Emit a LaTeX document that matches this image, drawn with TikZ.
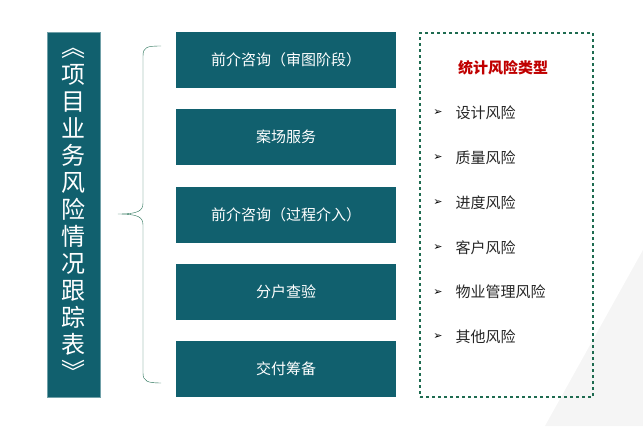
\documentclass[tikz,border=0pt]{standalone}
\usepackage{fontspec}
\setmainfont{Noto Sans CJK SC}
\newfontfamily\symfont{DejaVu Sans}
\usepackage{tikz}
\usetikzlibrary{positioning}
\definecolor{teal1}{HTML}{11606E}
\definecolor{green1}{HTML}{1E6B50}
\definecolor{red1}{HTML}{C00000}
\tikzset{
  stagebox/.style={fill=teal1,text=white,minimum width=220pt,minimum height=56pt,font=\fontsize{15}{18}\selectfont},
  riskitem/.style={anchor=west,font=\fontsize{15}{18}\selectfont,text=black!85}
}
\begin{document}
\begin{tikzpicture}[x=1pt,y=-1pt]
\useasboundingbox (0,0) rectangle (643,426);
% background decoration
\fill[black!4] (643,250) -- (643,426) -- (545,426) -- cycle;
% title column
\node[fill=teal1,draw=teal1!60,minimum width=53pt,minimum height=365pt,text=white,
  align=center,font=\fontsize{24}{27}\selectfont] (title) at (73.5,214.5)
  {︽\\项\\目\\业\\务\\风\\险\\情\\况\\跟\\踪\\表\\︾};
% stages
\node[stagebox] (s1) at (286,60) {前介咨询（审图阶段）};
\node[stagebox] (s2) at (286,137) {案场服务};
\node[stagebox] (s3) at (286,215) {前介咨询（过程介入）};
\node[stagebox] (s4) at (286,291.5) {分户查验};
\node[stagebox] (s5) at (286,369) {交付筹备};
% brace
\coordinate (btop) at (161,46);
\coordinate (bbot) at (161,383);
\coordinate (btip) at (118,214);
\draw[green1,thin] (btop) .. controls (147,46) and (143,47) .. (143,56) -- (143,203)
  .. controls (143,211) and (138,214) .. (btip)
  .. controls (138,214) and (143,217) .. (143,225) -- (143,373)
  .. controls (143,381) and (147,383) .. (bbot);
% risk types
\node[draw=green1,dashed,line width=1.3pt,minimum width=173pt,minimum height=364pt] (risks) at (506.5,215) {};
\node[text=red1,font=\bfseries\fontsize{15}{18}\selectfont] (rtitle) at (503,68) {统计风险类型};
\foreach \txt [count=\i] in {设计风险,质量风险,进度风险,客户风险,物业管理风险,其他风险}{
  \node[font=\symfont\fontsize{11}{12}\selectfont] (a\i) at (438,{113+44.8*(\i-1)}) {➢};
  \node[riskitem] (r\i) at (452,{113+44.8*(\i-1)}) {\txt};
}
\end{tikzpicture}
\end{document}
